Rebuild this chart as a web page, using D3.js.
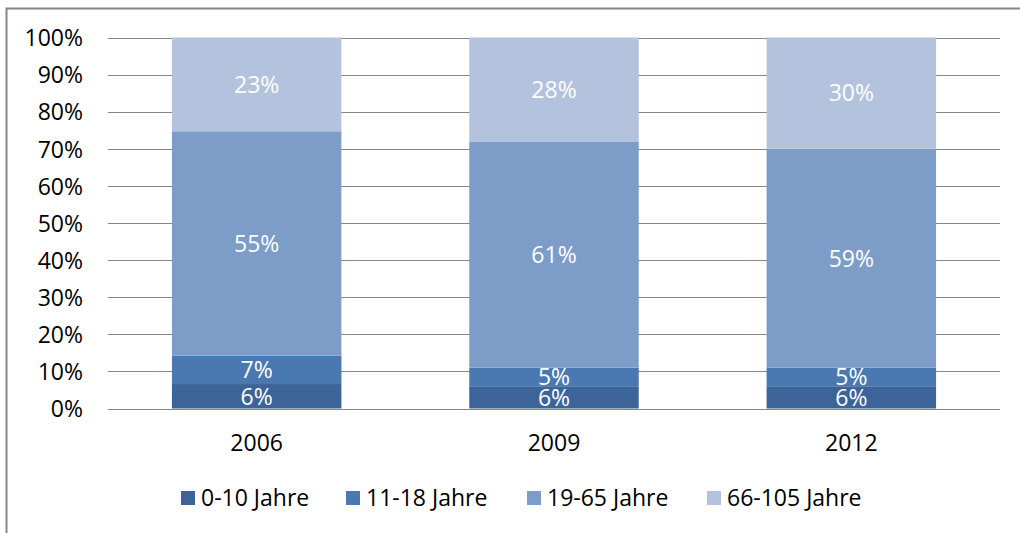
<!DOCTYPE html>
<html><head><meta charset="utf-8">
<script src="https://cdn.jsdelivr.net/npm/d3@7"></script>
<style>
html,body{margin:0;padding:0;background:#fff;}
svg{display:block;font-family:"Open Sans",sans-serif;}
</style></head>
<body>
<script>
const categories = ["2006", "2009", "2012"];
const seriesNames = ["0-10 Jahre", "11-18 Jahre", "19-65 Jahre", "66-105 Jahre"];
const s0_10 = [6, 6, 6];
const s11_18 = [7, 5, 5];
const s19_65 = [55, 61, 59];
const s66_105 = [23, 28, 30];
const seriesValues = [s0_10, s11_18, s19_65, s66_105];
const yTicks = [0, 0.1, 0.2, 0.3, 0.4, 0.5, 0.6, 0.7, 0.8, 0.9, 1.0];
const colors = ["#3d6498", "#4a78b1", "#7e9cc8", "#b4c3dd"];

const W = 1020, H = 533;
const FS = 23;
const svg = d3.select("body").append("svg").attr("width", W).attr("height", H);

// chart border
svg.append("path").attr("d", "M6.5,540 V8.5 H1030").attr("fill", "none").attr("stroke", "#868686").attr("stroke-width", 2);

const plot = {left: 108, right: 1000, top: 37.5, bottom: 408.5};
const x = d3.scaleBand().domain(categories).range([plot.left, plot.right]).paddingInner(0.43).paddingOuter(0.215);
const y = d3.scaleLinear().domain([0, 1]).range([plot.bottom, plot.top]);

// gridlines
svg.append("g").selectAll("line").data(yTicks).join("line")
  .attr("x1", plot.left).attr("x2", plot.right)
  .attr("y1", d => Math.round(y(d)) + 0.5).attr("y2", d => Math.round(y(d)) + 0.5)
  .attr("stroke", "#868686").attr("stroke-width", 1);

// stacking (100% stacked)
const rows = categories.map((c, i) => {
  const r = {cat: c};
  seriesNames.forEach((s, j) => r[s] = seriesValues[j][i]);
  return r;
});
const stack = d3.stack().keys(seriesNames).offset(d3.stackOffsetExpand);
const stacked = stack(rows);

const g = svg.append("g");
stacked.forEach((layer, j) => {
  g.selectAll(null).data(layer).join("rect")
    .attr("x", d => x(d.data.cat))
    .attr("width", x.bandwidth())
    .attr("y", d => y(d[1]))
    .attr("height", d => y(d[0]) - y(d[1]))
    .attr("fill", colors[j]);
});
// labels
stacked.forEach((layer, j) => {
  g.selectAll(null).data(layer).join("text")
    .attr("x", d => x(d.data.cat) + x.bandwidth() / 2)
    .attr("y", d => (y(d[0]) + y(d[1])) / 2)
    .attr("dy", "0.36em")
    .attr("text-anchor", "middle")
    .attr("fill", "#ffffff")
    .attr("font-size", FS)
    .text(d => d.data[layer.key] + "%");
});

// y axis labels
const yAxis = d3.axisLeft(y).tickValues(yTicks).tickFormat(d => Math.round(d * 100) + "%").tickSize(0).tickPadding(0);
const ya = svg.append("g").attr("transform", `translate(83,0)`).call(yAxis);
ya.select(".domain").remove();
ya.selectAll("text").attr("font-size", FS).attr("font-family", "Open Sans").attr("fill", "#000").attr("dy", "0.36em");

// x axis labels
const xAxis = d3.axisBottom(x).tickSize(0).tickPadding(0);
const xa = svg.append("g").attr("transform", `translate(0,443)`).call(xAxis);
xa.select(".domain").remove();
xa.selectAll("text").attr("font-size", FS).attr("font-family", "Open Sans").attr("fill", "#000").attr("dy", "0.36em");

// legend
const legendX = [181, 346, 527, 707];
const lg = svg.append("g");
seriesNames.forEach((s, j) => {
  const it = lg.append("g").attr("transform", `translate(${legendX[j]},498)`);
  it.append("rect").attr("x", 0).attr("y", -7).attr("width", 14).attr("height", 14).attr("fill", colors[j]);
  it.append("text").attr("x", 20).attr("y", 0).attr("dy", "0.36em").attr("font-size", FS).attr("fill", "#000").text(s);
});
</script>
</body></html>
